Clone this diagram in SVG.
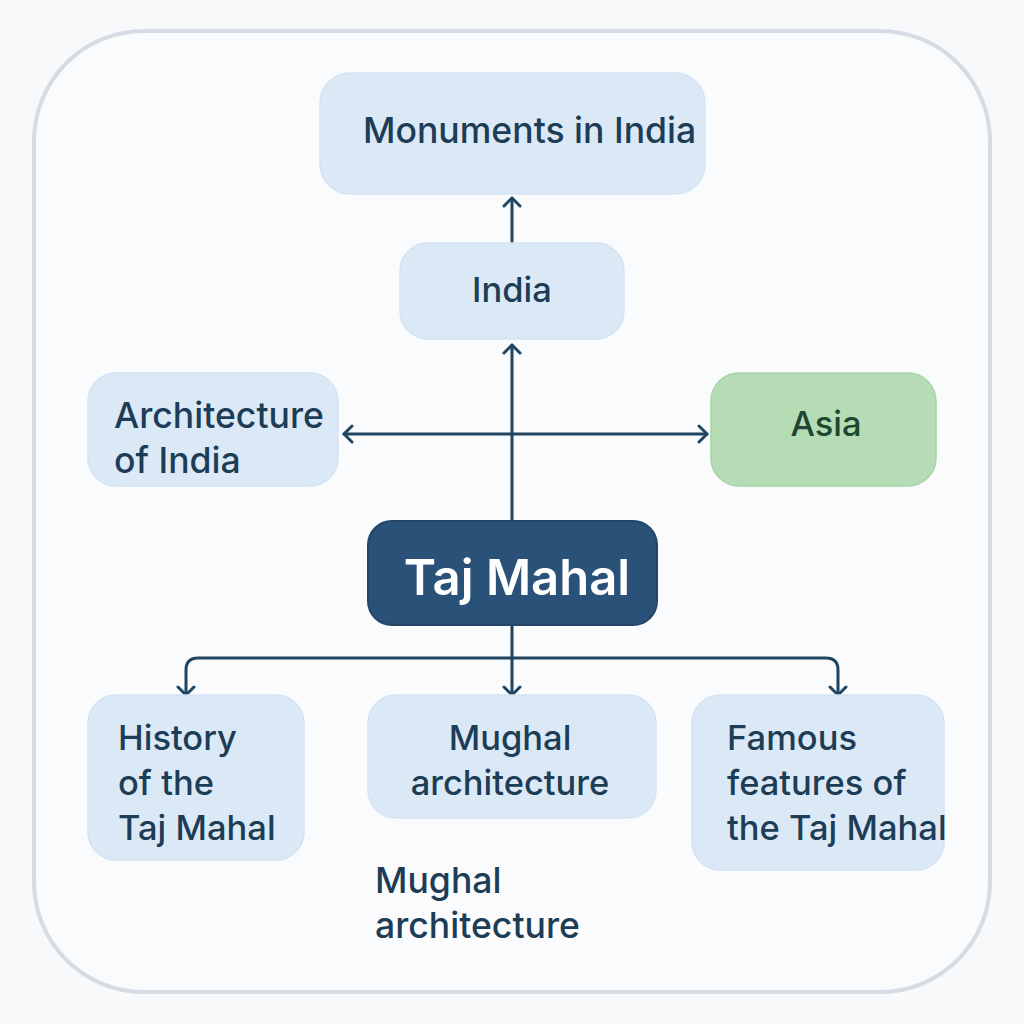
<svg xmlns="http://www.w3.org/2000/svg" width="1024" height="1024" viewBox="0 0 1024 1024">
<defs>
<style>
.box{fill:#dbe9f7;stroke:#d3e3f3;stroke-width:1.5}
.lbl{font-family:Inter,"Noto Sans","Liberation Sans",sans-serif;font-size:34.5px;fill:#1d3d56;font-weight:500}
.big{font-size:35.6px}
.conn{fill:none;stroke:#1f4560;stroke-width:3;stroke-linecap:round;stroke-linejoin:round}
</style>
<marker id="arr" viewBox="0 0 20 20" refX="10" refY="10" markerWidth="20" markerHeight="20" markerUnits="userSpaceOnUse" orient="auto-start-reverse">
<path d="M2,2 L10,10 L2,18" fill="none" stroke="#1f4560" stroke-width="3" stroke-linecap="round" stroke-linejoin="round"/>
</marker>
</defs>
<rect width="1024" height="1024" fill="#f8f9fb"/>
<rect x="34" y="31" width="956" height="961" rx="110" fill="#fafbfc" stroke="#d6dce3" stroke-width="4"/>

<g id="connectors">
<line class="conn" x1="512" y1="242" x2="512" y2="198" marker-end="url(#arr)"/>
<line class="conn" x1="512" y1="521" x2="512" y2="345" marker-end="url(#arr)"/>
<line class="conn" x1="344" y1="434" x2="707" y2="434" marker-start="url(#arr)" marker-end="url(#arr)"/>
<line class="conn" x1="512" y1="626" x2="512" y2="695" marker-end="url(#arr)"/>
<path class="conn" d="M186,695 L186,670 Q186,658 198,658 L826,658 Q838,658 838,670 L838,695" marker-start="url(#arr)" marker-end="url(#arr)"/>
</g>

<g id="monuments">
<rect class="box" x="320" y="73" width="385" height="121" rx="30"/>
<text class="lbl big" x="363" y="143">Monuments in India</text>
</g>
<g id="india">
<rect class="box" x="400" y="243" width="224" height="96" rx="28"/>
<text class="lbl" x="512" y="302" text-anchor="middle">India</text>
</g>
<g id="architecture">
<rect class="box" x="88" y="373" width="250" height="113" rx="28"/>
<text class="lbl big" x="114" y="428">Architecture</text>
<text class="lbl big" x="114" y="473">of India</text>
</g>
<g id="asia">
<rect x="711" y="373" width="225" height="113" rx="28" fill="#b5dcb4" stroke="#a8d4a7" stroke-width="1.5"/>
<text class="lbl" x="826" y="436" text-anchor="middle" style="fill:#1e4630">Asia</text>
</g>
<g id="tajmahal">
<rect x="368" y="521" width="289" height="104" rx="24" fill="#2a5279" stroke="#23476b" stroke-width="2"/>
<text x="517" y="595" text-anchor="middle" font-family="Inter,'Noto Sans','Liberation Sans',sans-serif" font-size="49" font-weight="600" fill="#ffffff">Taj Mahal</text>
</g>
<g id="history">
<rect class="box" x="88" y="695" width="216" height="165" rx="28"/>
<text class="lbl" x="118" y="750">History</text>
<text class="lbl" x="118" y="795">of the</text>
<text class="lbl" x="118" y="840">Taj Mahal</text>
</g>
<g id="mughal">
<rect class="box" x="368" y="695" width="288" height="123" rx="28"/>
<text class="lbl" x="510" y="750" text-anchor="middle">Mughal</text>
<text class="lbl" x="510" y="795" text-anchor="middle">architecture</text>
</g>
<g id="famous">
<rect class="box" x="692" y="695" width="252" height="175" rx="28"/>
<text class="lbl" x="727" y="750">Famous</text>
<text class="lbl" x="727" y="795">features of</text>
<text class="lbl" x="727" y="840">the Taj Mahal</text>
</g>
<g id="mughal-label">
<text class="lbl big" x="375" y="893">Mughal</text>
<text class="lbl big" x="375" y="938">architecture</text>
</g>
</svg>
